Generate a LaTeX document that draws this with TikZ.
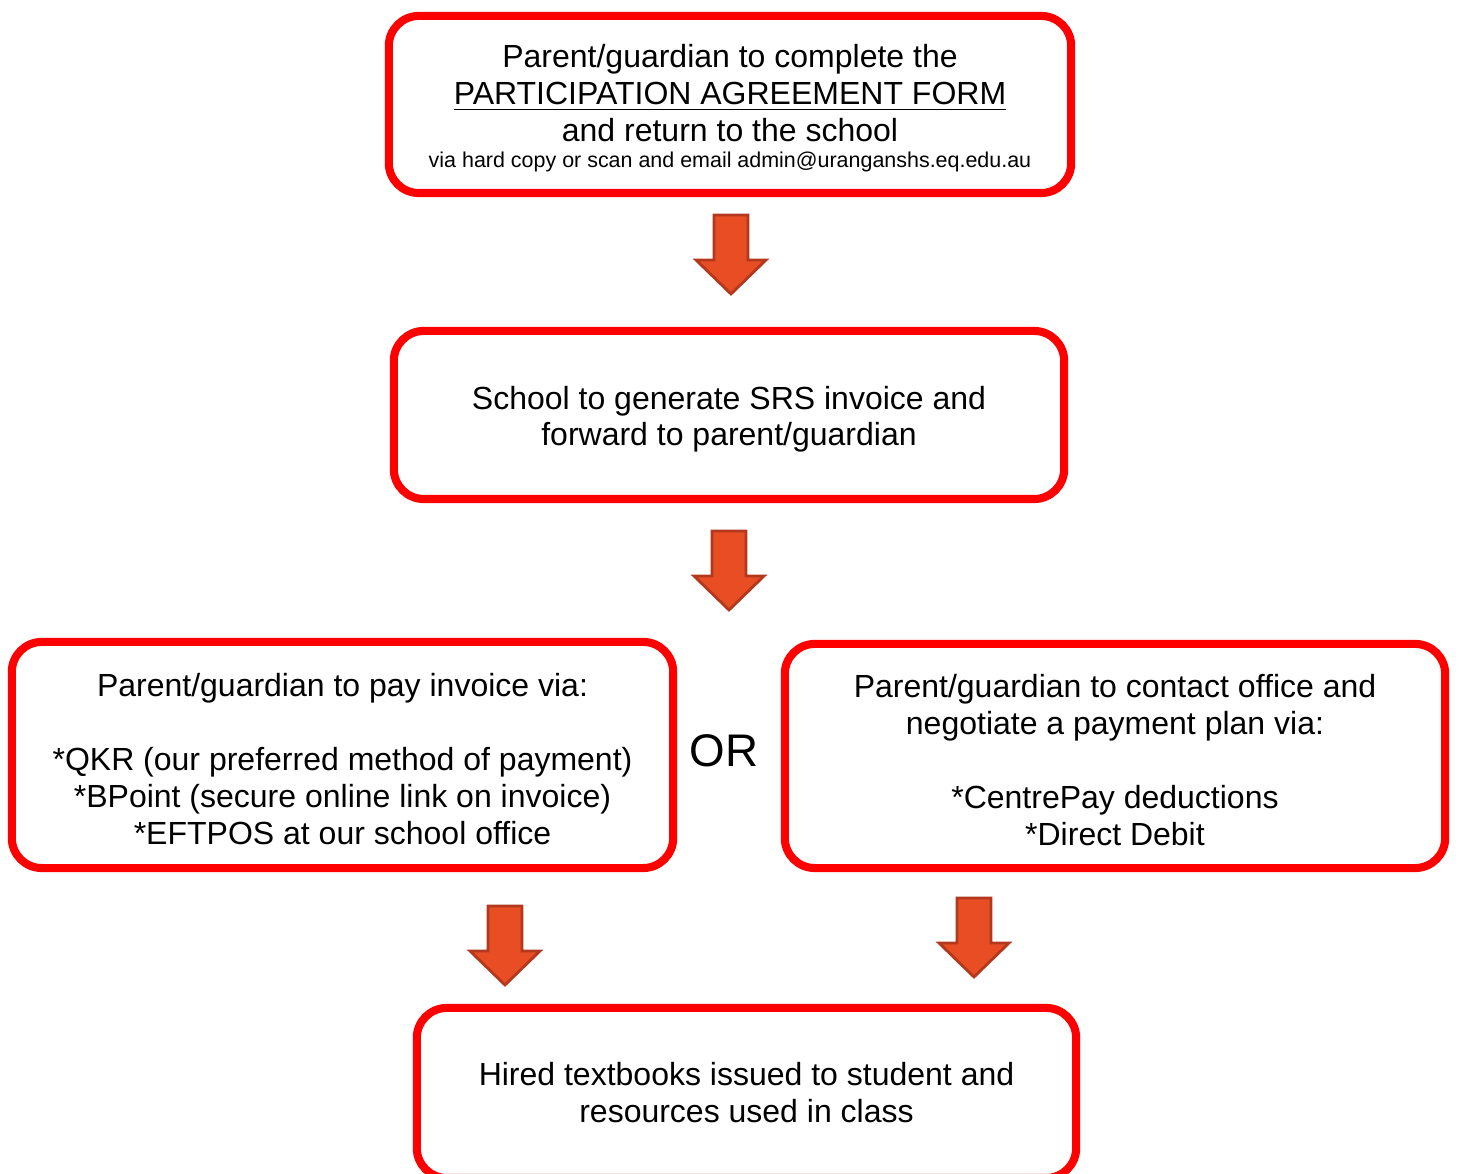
\documentclass[tikz,border=0pt]{standalone}
\usepackage{fontspec}
\setmainfont{Liberation Sans}
\usetikzlibrary{positioning}

\definecolor{boxred}{RGB}{255,0,0}
\definecolor{arrfill}{RGB}{232,77,36}
\definecolor{arrdraw}{RGB}{178,56,30}

\tikzset{
  stepbox/.style={draw=boxred, line width=2.3pt, rounded corners=0.3cm,
    align=center, inner sep=0pt, font=\fontsize{9.1}{10.5}\selectfont},
  blockarr/.style={fill=arrfill, draw=arrdraw, line width=0.8pt},
  downarr/.pic={\draw[blockarr] (-17,0) -- (17,0) -- (17,45) -- (35,45)
    -- (0,79) -- (-35,45) -- (-17,45) -- cycle;}
}

\begin{document}
\begin{tikzpicture}[x=0.01cm, y=-0.01cm]
\useasboundingbox (0,0) rectangle (1459,1174);
\clip (0,0) rectangle (1459,1174);

% boxes
\node[stepbox, minimum width=6.82cm, minimum height=1.77cm] (form) at (730,104.5)
  {\rule{0pt}{8.7pt}Parent/guardian to complete the\\
   \underline{PARTICIPATION AGREEMENT FORM}\\
   and return to the school\\[-2.9pt]
   {\fontsize{6.1}{8}\selectfont via hard copy or scan and email admin@uranganshs.eq.edu.au}};
\node[stepbox, minimum width=6.70cm, minimum height=1.68cm] (invoice) at (729,415)
  {\rule{0pt}{9pt}School to generate SRS invoice and\\ forward to parent/guardian};
\node[stepbox, minimum width=6.61cm, minimum height=2.26cm] (pay) at (342.5,755)
  {\rule{0pt}{9pt}Parent/guardian to pay invoice via:\\ \mbox{}\\
   *QKR (our preferred method of payment)\\
   *BPoint (secure online link on invoice)\\
   *EFTPOS at our school office};
\node[font=\fontsize{13}{15}\selectfont] (or) at (724,751) {OR};
\node[stepbox, minimum width=6.60cm, minimum height=2.24cm] (plan) at (1115,756)
  {\rule{0pt}{9pt}Parent/guardian to contact office and\\ negotiate a payment plan via:\\ \mbox{}\\
   *CentrePay deductions\\ *Direct Debit};
\node[stepbox, minimum width=6.59cm, minimum height=1.70cm] (books) at (746.5,1093)
  {Hired textbooks issued to student and\\ resources used in class};

% arrows
\coordinate (a1) at (731,215);
\coordinate (a2) at (729,531);
\coordinate (a3) at (505,906);
\coordinate (a4) at (974,898);
\foreach \a in {a1,a2,a3,a4}
  \pic at (\a) {downarr};
\end{tikzpicture}
\end{document}
